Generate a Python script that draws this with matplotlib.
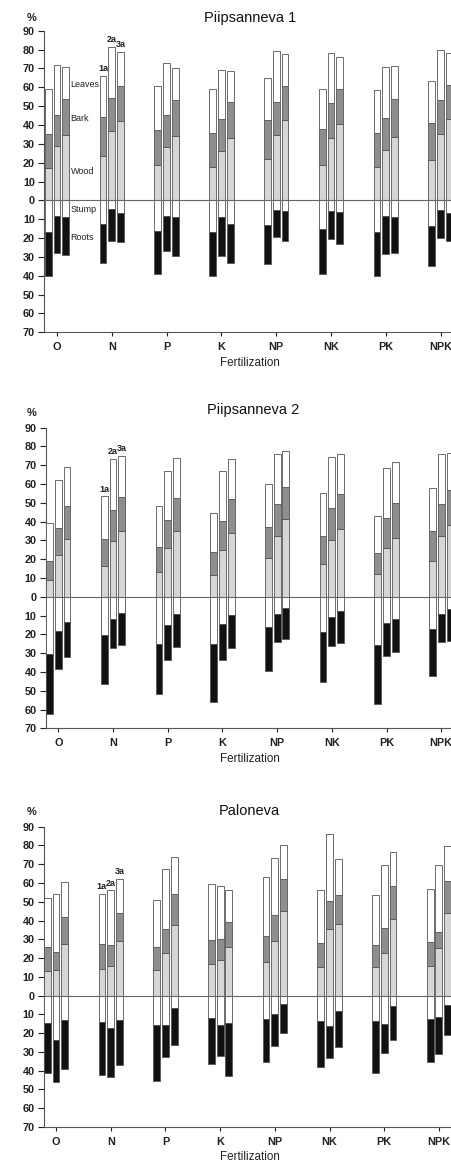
import matplotlib
matplotlib.use("Agg")
import matplotlib.pyplot as plt
import numpy as np

plt.rcParams["font.family"] = ["Liberation Sans", "DejaVu Sans"]

groups = ["O", "N", "P", "K", "NP", "NK", "PK", "NPK"]
sites = ["Piipsanneva 1", "Piipsanneva 2", "Paloneva"]
bar_names = ["1a", "2a", "3a"]

# cumulative tops above ground (%), three bars (1a, 2a, 3a) per fertilization group
# wood top, bark top (= wood + bark), leaves top (= total)
p1_wood = [[17.2, 28.8, 34.5], [23.5, 36.7, 42.0], [18.5, 28.3, 34.3], [17.7, 26.0, 33.2],
           [22.2, 34.8, 42.4], [19.0, 33.2, 40.3], [17.7, 26.7, 33.8], [21.3, 35.4, 42.9]]
p1_bark = [[35.1, 45.2, 53.8], [44.1, 54.4, 60.8], [37.3, 45.2, 53.1], [35.9, 43.3, 52.2],
           [42.4, 52.4, 60.5], [37.8, 51.8, 59.1], [35.7, 43.8, 53.8], [41.2, 53.5, 61.4]]
p1_leaves = [[59.1, 71.9, 70.7], [66.1, 81.4, 78.6], [60.5, 72.8, 70.2], [59.1, 69.4, 68.8],
             [64.7, 79.2, 77.4], [59.3, 78.3, 76.1], [58.4, 70.5, 71.4], [63.5, 80.0, 78.4]]
# below ground: stump depth, roots depth (cumulative)
p1_stump = [[16.7, 8.3, 8.9], [12.6, 4.4, 6.5], [16.0, 8.5, 9.0], [17.0, 9.0, 12.4],
            [13.0, 5.3, 5.9], [15.1, 5.9, 6.4], [16.9, 8.5, 8.9], [13.5, 5.2, 6.9]]
p1_roots = [[40.3, 27.9, 29.1], [33.2, 21.5, 22.0], [39.0, 27.0, 29.5], [40.0, 29.5, 33.4],
            [34.0, 19.7, 21.8], [39.3, 20.6, 22.9], [40.1, 28.4, 27.7], [35.0, 19.9, 21.3]]

p2_wood = [[8.9, 22.0, 30.9], [16.3, 29.6, 34.8], [13.3, 25.9, 35.1], [11.7, 25.0, 33.7],
           [20.6, 32.6, 41.3], [17.6, 30.1, 36.0], [12.1, 26.1, 31.4], [19.0, 32.4, 38.3]]
p2_bark = [[19.3, 36.5, 48.4], [31.0, 46.1, 53.2], [26.4, 41.0, 52.7], [23.8, 40.2, 52.0],
           [37.4, 49.6, 58.7], [32.4, 47.0, 54.6], [23.4, 41.7, 50.0], [34.9, 49.3, 56.7]]
p2_leaves = [[39.2, 62.2, 69.1], [53.4, 73.2, 75.2], [48.2, 66.7, 73.8], [44.7, 66.8, 73.2],
             [60.1, 76.1, 77.5], [55.0, 74.5, 75.9], [43.1, 68.4, 71.6], [57.8, 76.1, 76.6]]
p2_stump = [[30.5, 18.1, 13.3], [20.1, 11.7, 8.7], [25.2, 15.1, 9.2], [25.2, 14.6, 9.8],
            [16.0, 8.9, 5.9], [18.6, 10.8, 7.4], [25.9, 14.2, 11.7], [17.4, 8.9, 6.6]]
p2_roots = [[62.3, 38.4, 31.8], [46.4, 27.4, 25.6], [51.9, 33.4, 26.8], [55.8, 33.4, 27.5],
            [39.5, 24.1, 22.7], [45.4, 26.2, 24.5], [57.1, 31.4, 29.3], [42.0, 24.1, 23.4]]

p3_wood = [[13.1, 13.7, 27.4], [14.2, 16.0, 29.0], [13.5, 22.9, 37.5], [16.9, 18.8, 25.9],
           [18.1, 29.0, 44.9], [15.1, 35.3, 38.0], [15.3, 22.7, 41.0], [15.8, 25.6, 44.1]]
p3_bark = [[25.8, 23.3, 42.1], [27.4, 26.8, 43.9], [25.8, 35.5, 54.4], [29.8, 30.2, 39.4],
           [31.8, 43.2, 62.2], [27.9, 50.3, 53.8], [27.0, 36.1, 58.3], [28.4, 34.1, 61.3]]
p3_leaves = [[52.2, 54.0, 60.6], [54.4, 56.1, 62.2], [51.0, 67.3, 73.7], [59.7, 58.6, 56.5],
             [63.4, 73.5, 80.5], [56.3, 86.3, 72.6], [53.8, 69.8, 76.7], [56.7, 69.6, 79.9]]
p3_stump = [[14.7, 23.9, 12.9], [14.3, 17.5, 12.9], [15.5, 15.5, 6.4], [11.8, 15.4, 14.6],
            [12.6, 9.6, 4.6], [13.3, 16.3, 8.2], [13.3, 15.3, 5.3], [12.3, 11.2, 4.8]]
p3_roots = [[41.0, 45.9, 39.0], [42.4, 43.6, 36.9], [45.6, 32.9, 26.1], [36.6, 32.3, 43.0],
            [35.2, 27.0, 19.9], [37.8, 33.2, 27.4], [41.4, 30.7, 23.6], [35.2, 30.9, 20.8]]

panels = [
    (p1_wood, p1_bark, p1_leaves, p1_stump, p1_roots),
    (p2_wood, p2_bark, p2_leaves, p2_stump, p2_roots),
    (p3_wood, p3_bark, p3_leaves, p3_stump, p3_roots),
]

W, H = 452, 1163
fig = plt.figure(figsize=(W / 100, H / 100), dpi=100)

# axes placement in pixels: left, top, bottom, x of first group tick, group spacing, title/percent offsets
layout = [
    dict(left=44.0, top=30.7, bottom=332.3, x0=57.0, sp=54.8, tdy=12.5, pdy=12.5, tx=250),
    dict(left=45.7, top=427.7, bottom=728.3, x0=58.3, sp=54.7, tdy=17.5, pdy=15.0, tx=253),
    dict(left=43.7, top=826.7, bottom=1127.0, x0=56.0, sp=54.7, tdy=16.0, pdy=15.0, tx=249),
]

edge = "#555555"
c_wood = "#d6d6d6"
c_bark = "#8e8e8e"
c_roots = "#111111"
bw = 0.125
offs = np.array([-0.16, 0.0, 0.16])
axw_px = 425.0

for k, (site, data, lay) in enumerate(zip(sites, panels, layout)):
    wood, bark, leaves, stump, roots = [np.array(d) for d in data]
    hpx = lay["bottom"] - lay["top"]
    ax = fig.add_axes([lay["left"] / W, 1 - lay["bottom"] / H, axw_px / W, hpx / H])
    xmin = -(lay["x0"] - lay["left"]) / lay["sp"]
    ax.set_xlim(xmin, xmin + axw_px / lay["sp"])
    ax.set_ylim(-70, 90)

    x = np.arange(len(groups))
    for j in range(3):
        xs = x + offs[j]
        kw = dict(width=bw, edgecolor=edge, linewidth=0.6, zorder=3)
        ax.bar(xs, wood[:, j], color=c_wood, **kw)
        ax.bar(xs, bark[:, j] - wood[:, j], bottom=wood[:, j], color=c_bark, **kw)
        ax.bar(xs, leaves[:, j] - bark[:, j], bottom=bark[:, j], color="white", **kw)
        ax.bar(xs, -stump[:, j], color="white", **kw)
        ax.bar(xs, -(roots[:, j] - stump[:, j]), bottom=-stump[:, j], color=c_roots, **kw)

    ax.axhline(0, color="#666666", linewidth=0.8, zorder=4)

    # 1a / 2a / 3a above the N group
    for j in range(3):
        ax.text(1 + offs[j], leaves[1, j] + 1.5, bar_names[j], ha="center", va="bottom",
                fontsize=6.5, fontweight="bold", color="#222222")

    if k == 0:
        lx = 0.25
        for name, yv in [("Leaves", 61.4), ("Bark", 43.6), ("Wood", 15.5),
                         ("Stump", -5.1), ("Roots", -19.6)]:
            ax.text(lx, yv, name, ha="left", va="center", fontsize=6.5,
                    color="#222222", zorder=5)

    yt = np.arange(-70, 91, 10)
    ax.set_yticks(yt)
    ax.set_yticklabels([str(abs(v)) for v in yt])
    ax.set_xticks(x)
    ax.set_xticklabels(groups)
    ax.tick_params(axis="y", length=4, width=0.8, pad=2.5, labelsize=7.8, colors="#222222")
    ax.tick_params(axis="x", length=3, width=0.8, pad=4, labelsize=7.8, colors="#222222")
    for lab in ax.get_xticklabels() + ax.get_yticklabels():
        lab.set_fontweight("bold")

    for s in ["top", "right"]:
        ax.spines[s].set_visible(False)
    for s in ["left", "bottom"]:
        ax.spines[s].set_color("#555555")
        ax.spines[s].set_linewidth(0.8)

    ax.set_xlabel("Fertilization", fontsize=8.4, color="#222222")
    ax.xaxis.set_label_coords((250 - lay["left"]) / axw_px, -24.5 / hpx)

    ax.text((lay["tx"] - lay["left"]) / axw_px, 1 + lay["tdy"] / hpx, site,
            transform=ax.transAxes, ha="center", va="center", fontsize=10.5, color="#111111")
    ax.text((32 - lay["left"]) / axw_px, 1 + lay["pdy"] / hpx, "%",
            transform=ax.transAxes, ha="center", va="center", fontsize=8, fontweight="bold",
            color="#222222")

fig.savefig("out.png", dpi=100)
